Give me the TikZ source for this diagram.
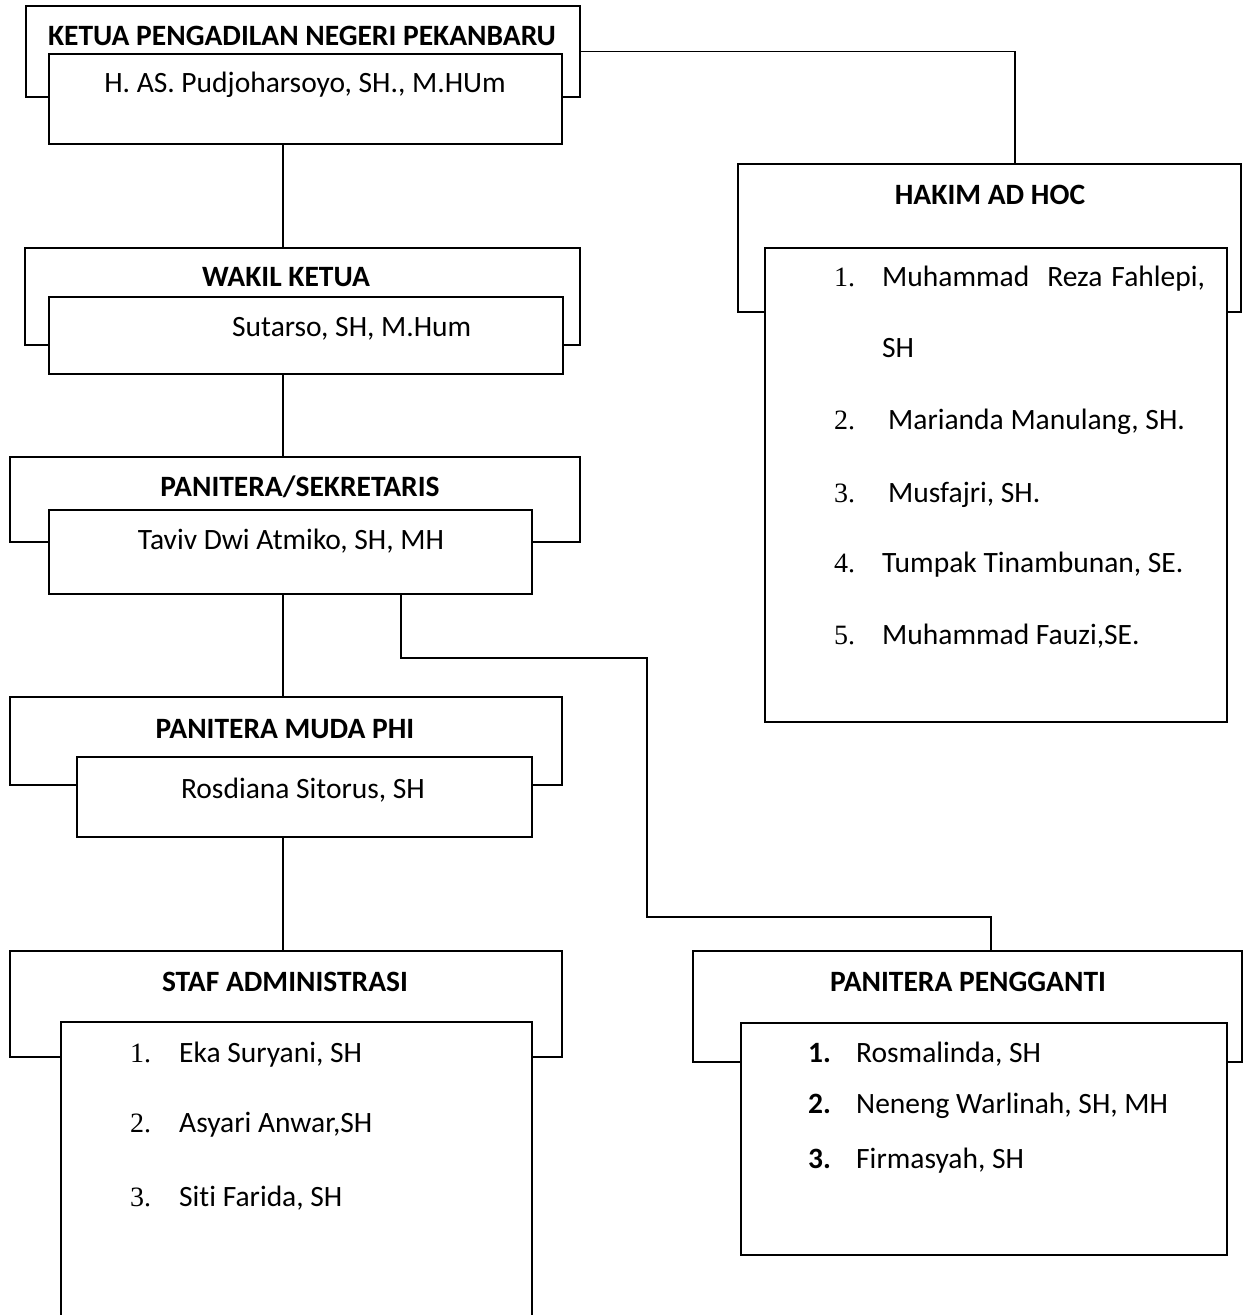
\documentclass[tikz,border=0pt]{standalone}
\usepackage{fontspec}
\setmainfont{Carlito}[Ligatures={NoCommon}]
\newfontfamily\numfont{Liberation Serif}
\begin{document}
\begin{tikzpicture}[x=1pt,y=-1pt,
  box/.style={draw=black, line width=1.9pt, fill=white, anchor=north west, inner sep=0pt, outer sep=0pt},
  ttl/.style={font=\fontsize{29.5}{34}\selectfont\bfseries, inner sep=0pt, anchor=base},
  nm/.style={font=\fontsize{29.5}{34}\selectfont, inner sep=0pt, anchor=base},
  nmw/.style={font=\fontsize{29.5}{34}\selectfont, inner sep=0pt, anchor=base west},
  num/.style={font=\fontsize{28}{34}\selectfont\numfont, inner sep=0pt, anchor=base west},
  bnum/.style={font=\fontsize{29.5}{34}\selectfont\bfseries, inner sep=0pt, anchor=base west},
  conn/.style={draw=black, line width=1.9pt}]
\useasboundingbox (0,0) rectangle (1250,1315);

% Ketua
\node[box, minimum width=554pt, minimum height=91pt] (ketuaO) at (26,6) {};
\node[box, minimum width=513pt, minimum height=90pt] (ketuaI) at (49,54) {};
\node[ttl] (ketuaT) at (302,45) {KETUA PENGADILAN NEGERI PEKANBARU};
\node[nm] (ketuaN) at (305,92) {H. AS. Pudjoharsoyo, SH., M.HUm};

% Wakil
\node[box, minimum width=555pt, minimum height=97pt] (wakilO) at (25,248) {};
\node[box, minimum width=514pt, minimum height=77pt] (wakilI) at (49,297) {};
\node[ttl] (wakilT) at (286,286) {WAKIL KETUA};
\node[nmw] (wakilN) at (232,336) {Sutarso, SH, M.Hum};

% Panitera/Sekretaris
\node[box, minimum width=570pt, minimum height=85pt] (panO) at (10,457) {};
\node[box, minimum width=483pt, minimum height=84pt] (panI) at (49,510) {};
\node[ttl] (panT) at (300,496) {PANITERA/SEKRETARIS};
\node[nm] (panN) at (291,549) {Taviv Dwi Atmiko, SH, MH};

% Panitera Muda PHI
\node[box, minimum width=552pt, minimum height=88pt] (mudaO) at (10,697) {};
\node[box, minimum width=455pt, minimum height=80pt] (mudaI) at (77,757) {};
\node[ttl] (mudaT) at (285,738) {PANITERA MUDA PHI};
\node[nm] (mudaN) at (303,798) {Rosdiana Sitorus, SH};

% Staf Administrasi
\node[box, minimum width=552pt, minimum height=106pt] (stafO) at (10,951) {};
\node[box, minimum width=471pt, minimum height=320pt] (stafI) at (61,1022) {};
\node[ttl] (stafT) at (285,991) {STAF ADMINISTRASI};
\node[num] (s1n) at (130,1062) {1.};
\node[nmw] (s1) at (179,1062) {Eka Suryani, SH};
\node[num] (s2n) at (130,1132) {2.};
\node[nmw] (s2) at (179,1132) {Asyari Anwar,SH};
\node[num] (s3n) at (130,1206) {3.};
\node[nmw] (s3) at (179,1206) {Siti Farida, SH};

% Hakim Ad Hoc
\node[box, minimum width=503pt, minimum height=148pt] (hakimO) at (738,164) {};
\node[box, minimum width=462pt, minimum height=474pt] (hakimI) at (765,248) {};
\node[ttl] (hakimT) at (990,204) {HAKIM AD HOC};
\node[num] (h1n) at (834,286) {1.};
\node[nmw] (h1) at (882,286) {Muhammad\hspace{18pt}Reza\hspace{9pt}Fahlepi,};
\node[nmw] (h1b) at (882,357) {SH};
\node[num] (h2n) at (834,429) {2.};
\node[nmw] (h2) at (888,429) {Marianda Manulang, SH.};
\node[num] (h3n) at (834,502) {3.};
\node[nmw] (h3) at (888,502) {Musfajri, SH.};
\node[num] (h4n) at (834,572) {4.};
\node[nmw] (h4) at (882,572) {Tumpak Tinambunan, SE.};
\node[num] (h5n) at (834,644) {5.};
\node[nmw] (h5) at (882,644) {Muhammad Fauzi,SE.};

% Panitera Pengganti
\node[box, minimum width=549pt, minimum height=111pt] (pengO) at (693,951) {};
\node[box, minimum width=486pt, minimum height=232pt] (pengI) at (741,1023) {};
\node[ttl] (pengT) at (968,991) {PANITERA PENGGANTI};
\node[bnum] (p1n) at (808,1062) {1.};
\node[nmw] (p1) at (856,1062) {Rosmalinda, SH};
\node[bnum] (p2n) at (808,1113) {2.};
\node[nmw] (p2) at (856,1113) {Neneng Warlinah, SH, MH};
\node[bnum] (p3n) at (808,1168) {3.};
\node[nmw] (p3) at (856,1168) {Firmasyah, SH};

% connectors
\coordinate (mx) at (283,0);
\coordinate (px) at (401,0);
\coordinate (hx) at (1015,0);
\coordinate (k1) at (647,658);
\coordinate (k2) at (991,917);
\draw[conn] (ketuaO.east) -| (hakimO.north -| hx);
\draw[conn] (ketuaI.south -| mx) -- (wakilO.north -| mx);
\draw[conn] (wakilI.south -| mx) -- (panO.north -| mx);
\draw[conn] (panI.south -| mx) -- (mudaO.north -| mx);
\draw[conn] (mudaI.south -| mx) -- (stafO.north -| mx);
\draw[conn] (panI.south -| px) |- (k1) |- (k2) -- (pengO.north -| k2);
\end{tikzpicture}
\end{document}
